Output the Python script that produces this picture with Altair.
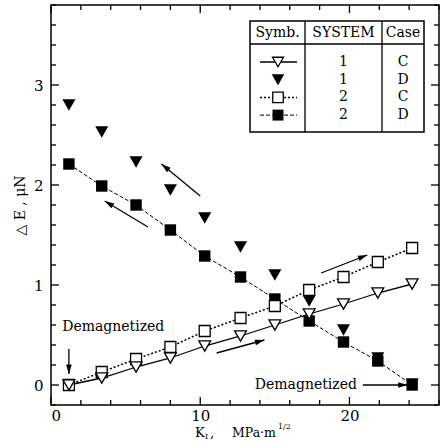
import math
import altair as alt
import pandas as pd

# ---------------- data ----------------
k_values = [1.2, 3.4, 5.7, 8.0, 10.3, 12.7, 15.0, 17.3, 19.6, 21.9, 24.2]
sys1_case_c = [0.0, 0.07, 0.18, 0.27, 0.39, 0.49, 0.60, 0.71, 0.81, 0.92, 1.01]
sys1_case_d = [2.80, 2.53, 2.23, 1.95, 1.67, 1.38, 1.10, 0.84, 0.55, 0.27, 0.01]
sys2_case_c = [0.0, 0.13, 0.26, 0.38, 0.54, 0.67, 0.79, 0.95, 1.08, 1.23, 1.37]
sys2_case_d = [2.21, 1.99, 1.80, 1.55, 1.29, 1.08, 0.86, 0.64, 0.43, 0.24, 0.0]

x_label_values = [0, 10, 20]
y_label_values = [0, 1, 2, 3]
x_minor_ticks = [0, 2, 4, 6, 8, 10, 12, 14, 16, 18, 20, 22, 24, 26]
y_minor_ticks = [round(-0.2 + 0.2 * i, 1) for i in range(21)]

arrow_x0 = [10.0, 6.5, 18.1, 11.1, 1.2, 20.9]
arrow_y0 = [1.89, 1.58, 1.12, 0.32, 0.36, 0.0]
arrow_x1 = [7.4, 3.6, 21.2, 14.3, 1.2, 23.9]
arrow_y1 = [2.21, 1.84, 1.30, 0.45, 0.11, 0.0]

note_text = ["Demagnetized", "Demagnetized"]
note_x = [0.75, 20.5]
note_y = [0.58, 0.0]
note_align = ["left", "right"]

legend_header = ["Symb.", "SYSTEM", "Case"]
legend_system = ["1", "1", "2", "2"]
legend_case = ["C", "D", "C", "D"]

# ---------------- layout ----------------
W, H = 388, 400
X_DOM = [0, 26]
Y_DOM = [-0.2, 3.8]
FONT = "DejaVu Serif"

xs = alt.Scale(domain=X_DOM, nice=False, zero=False)
ys = alt.Scale(domain=Y_DOM, nice=False, zero=False)
x_axis = alt.Axis(values=x_label_values, ticks=False, domain=False, grid=False,
                  labelFont=FONT, labelFontSize=15, labelColor="black",
                  labelPadding=3, title=None)
y_axis = alt.Axis(values=y_label_values, ticks=False, domain=False, grid=False,
                  labelFont=FONT, labelFontSize=15, labelColor="black",
                  labelPadding=8, title="△ E ,   μN", titleFont=FONT,
                  titleFontSize=14, titleFontWeight="normal", titleColor="black",
                  titlePadding=6)


def X(field):
    return alt.X(field, type="quantitative", scale=xs, axis=x_axis)


def Y(field):
    return alt.Y(field, type="quantitative", scale=ys, axis=y_axis)


series = pd.DataFrame({
    "k": k_values * 4,
    "v": sys1_case_c + sys1_case_d + sys2_case_c + sys2_case_d,
    "s": ["1C"] * 11 + ["1D"] * 11 + ["2C"] * 11 + ["2D"] * 11,
})

base = alt.Chart(series)


def sel(name):
    return base.transform_filter(alt.datum.s == name)


lines = [
    sel("2D").mark_line(color="black", strokeWidth=1.0, strokeDash=[4, 2]).encode(x=X("k"), y=Y("v")),
    sel("2C").mark_line(color="black", strokeWidth=1.5, strokeDash=[2, 2]).encode(x=X("k"), y=Y("v")),
    sel("1C").mark_line(color="black", strokeWidth=1.3).encode(x=X("k"), y=Y("v")),
]
points = [
    sel("2D").mark_point(shape="square", filled=True, color="black", size=130, opacity=1).encode(x=X("k"), y=Y("v")),
    sel("1D").mark_point(shape="triangle-down", filled=True, color="black", size=170, opacity=1).encode(x=X("k"), y=Y("v")),
    sel("2C").mark_point(shape="square", fill="white", stroke="black", strokeWidth=1.3, size=120, opacity=1, filled=False).encode(x=X("k"), y=Y("v")),
    sel("1C").mark_point(shape="triangle-down", fill="white", stroke="black", strokeWidth=1.3, size=140, opacity=1, filled=False).encode(x=X("k"), y=Y("v")),
]

# ---------------- arrows ----------------
adf = pd.DataFrame({"x0": arrow_x0, "y0": arrow_y0, "x1": arrow_x1, "y1": arrow_y1})
px_x = W / (X_DOM[1] - X_DOM[0])
px_y = H / (Y_DOM[1] - Y_DOM[0])
adf["ang"] = [
    math.degrees(math.atan2(-(b1 - b0) * px_y, (a1 - a0) * px_x)) % 360
    for a0, b0, a1, b1 in zip(adf.x0, adf.y0, adf.x1, adf.y1)
]
arrow_lines = alt.Chart(adf).mark_rule(color="black", strokeWidth=1.3).encode(
    x=X("x0"), y=Y("y0"), x2=alt.X2("x1"), y2=alt.Y2("y1"))
arrow_heads = alt.Chart(adf).mark_point(
    shape="M0,0L-2,-0.6L-2,0.6Z", filled=True, color="black", size=90, opacity=1
).encode(x=X("x1"), y=Y("y1"), angle=alt.Angle("ang:Q", scale=None))

# ---------------- notes ----------------
ndf = pd.DataFrame({"t": note_text, "x": note_x, "y": note_y, "a": note_align})
notes = [
    alt.Chart(ndf).transform_filter(alt.datum.a == al).mark_text(
        align=al, baseline="middle", font=FONT, fontSize=14, color="black"
    ).encode(x=X("x"), y=Y("y"), text="t:N")
    for al in ["left", "right"]
]

# ---------------- inward ticks on all four sides ----------------
xt = pd.DataFrame({"v": x_minor_ticks})
xt["major"] = xt.v.isin(x_label_values)
yt = pd.DataFrame({"v": y_minor_ticks})
yt["major"] = yt.v.isin(y_label_values)
ticks = []
for is_major, ln in [(False, 5), (True, 8)]:
    bx = alt.Chart(xt).transform_filter(alt.datum.major == is_major).mark_rule(color="black", strokeWidth=1.3)
    by = alt.Chart(yt).transform_filter(alt.datum.major == is_major).mark_rule(color="black", strokeWidth=1.3)
    ticks += [
        bx.encode(x=X("v"), y=alt.value(H), y2=alt.value(H - ln)),
        bx.encode(x=X("v"), y=alt.value(0), y2=alt.value(ln)),
        by.encode(y=Y("v"), x=alt.value(0), x2=alt.value(ln)),
        by.encode(y=Y("v"), x=alt.value(W), x2=alt.value(W - ln)),
    ]

# ---------------- x-axis title with sub/superscript ----------------
one = pd.DataFrame({"d": [0]})


def ptext(t, x, y, size, align="left"):
    return alt.Chart(one).mark_text(
        text=t, align=align, baseline="alphabetic", font=FONT, fontSize=size, color="black"
    ).encode(x=alt.value(x), y=alt.value(y))


xtitle = [
    ptext("K", 144, 432, 13),
    ptext("I", 154, 434, 8),
    ptext(",", 159, 432, 13),
    ptext("MPa·m", 181, 432, 12.5),
    ptext("1/2", 227, 424, 8),
]

# ---------------- legend table ----------------
TL, TR, TT, TB = 199, 373, 16, 127
HDR = 39
C1, C2 = 254, 331
row_y = [57 + 17.7 * i for i in range(4)]

table = [
    alt.Chart(one).mark_rect(fill="white", stroke="black", strokeWidth=1.5).encode(
        x=alt.value(TL), x2=alt.value(TR), y=alt.value(TT), y2=alt.value(TB)),
    alt.Chart(one).mark_rule(color="black", strokeWidth=1.3).encode(
        x=alt.value(TL), x2=alt.value(TR), y=alt.value(HDR)),
    alt.Chart(one).mark_rule(color="black", strokeWidth=1.3).encode(
        x=alt.value(C1), y=alt.value(TT), y2=alt.value(TB)),
    alt.Chart(one).mark_rule(color="black", strokeWidth=1.3).encode(
        x=alt.value(C2), y=alt.value(TT), y2=alt.value(TB)),
]
hx = [(TL + C1) / 2, (C1 + C2) / 2, (C2 + TR) / 2]
for t, cx in zip(legend_header, hx):
    table.append(alt.Chart(one).mark_text(text=t, font=FONT, fontSize=14, color="black",
                                          baseline="middle").encode(x=alt.value(cx), y=alt.value(28)))
for i in range(4):
    table.append(alt.Chart(one).mark_text(text=legend_system[i], font=FONT, fontSize=14, color="black",
                                          baseline="middle").encode(x=alt.value(hx[1]), y=alt.value(row_y[i])))
    table.append(alt.Chart(one).mark_text(text=legend_case[i], font=FONT, fontSize=14, color="black",
                                          baseline="middle").encode(x=alt.value(hx[2]), y=alt.value(row_y[i])))
sx0, sx1, sxm = 209, 246, 227
table += [
    alt.Chart(one).mark_rule(color="black", strokeWidth=1.3).encode(
        x=alt.value(sx0), x2=alt.value(sx1), y=alt.value(row_y[0])),
    alt.Chart(one).mark_rule(color="black", strokeWidth=1.5, strokeDash=[2, 2]).encode(
        x=alt.value(sx0), x2=alt.value(sx1), y=alt.value(row_y[2])),
    alt.Chart(one).mark_rule(color="black", strokeWidth=1.0, strokeDash=[4, 2]).encode(
        x=alt.value(sx0), x2=alt.value(sx1), y=alt.value(row_y[3])),
    alt.Chart(one).mark_point(shape="triangle-down", fill="white", stroke="black", strokeWidth=1.3,
                              size=120, opacity=1, filled=False).encode(x=alt.value(sxm), y=alt.value(row_y[0])),
    alt.Chart(one).mark_point(shape="triangle-down", filled=True, color="black", size=160,
                              opacity=1).encode(x=alt.value(sxm), y=alt.value(row_y[1])),
    alt.Chart(one).mark_point(shape="square", fill="white", stroke="black", strokeWidth=1.3,
                              size=110, opacity=1, filled=False).encode(x=alt.value(sxm), y=alt.value(row_y[2])),
    alt.Chart(one).mark_point(shape="square", filled=True, color="black", size=120,
                              opacity=1).encode(x=alt.value(sxm), y=alt.value(row_y[3])),
]

chart = alt.layer(
    *ticks, *lines, arrow_lines, arrow_heads, *points, *notes, *xtitle, *table
).properties(
    width=W, height=H,
    padding={"left": 51, "top": 5, "right": 2, "bottom": 43},
    autosize=alt.AutoSizeParams(type="none"),
    background="white",
).configure_view(stroke="black", strokeWidth=1.5)

chart.save("out.html", embed_options={"renderer": "svg", "actions": False})
